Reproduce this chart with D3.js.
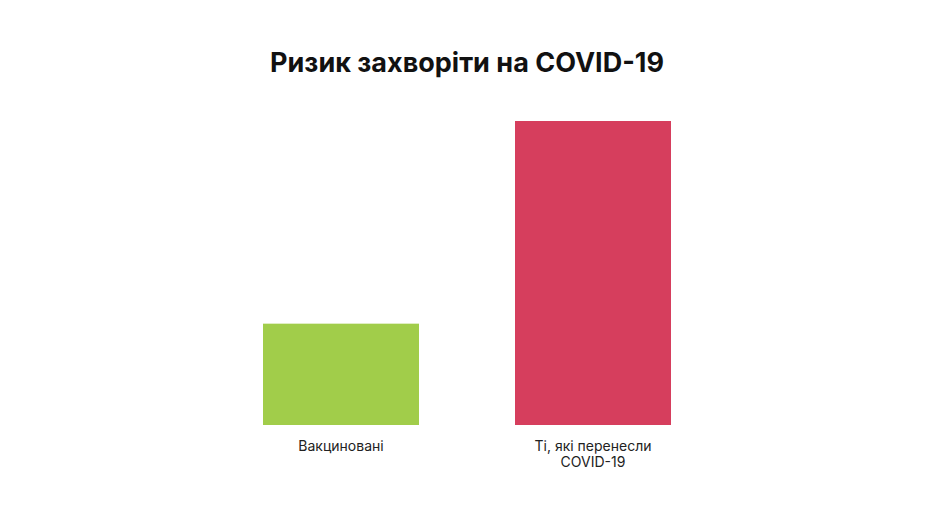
<!DOCTYPE html>
<html><head><meta charset="utf-8">
<script src="https://cdn.jsdelivr.net/npm/d3@7"></script>
<style>body{margin:0;background:#fff}svg{display:block}</style>
</head><body>
<svg id="c" width="933" height="509"></svg>
<script>
const title = "Ризик захворіти на COVID-19";
const categories = ["Вакциновані", "Ті, які перенесли|COVID-19"];
const values = [1, 3];
const colors = ["#a1cd4a", "#d63e5d"];

const svg = d3.select("#c");
svg.append("rect").attr("width",933).attr("height",509).attr("fill","#fff");

const x = d3.scaleBand().domain(categories).range([263, 671]).paddingInner(0.381).paddingOuter(0);
const y = d3.scaleLinear().domain([0, 3]).range([425, 121]);

svg.append("g").selectAll("rect").data(values).join("rect")
  .attr("x", (d,i)=>x(categories[i]))
  .attr("width", x.bandwidth())
  .attr("y", d=>y(d))
  .attr("height", d=>y(0)-y(d))
  .attr("fill", (d,i)=>colors[i]);

svg.append("text").attr("x",467).attr("y",72).attr("text-anchor","middle")
  .attr("font-family","Inter, 'Open Sans', sans-serif").attr("font-weight",700)
  .attr("font-size",27).attr("fill","#111").text(title);

const lab = svg.append("g").selectAll("text").data(categories).join("text")
  .attr("x", d=>x(d)+x.bandwidth()/2).attr("y",451).attr("text-anchor","middle")
  .attr("font-family","Inter, 'Open Sans', sans-serif").attr("font-size",14).attr("fill","#222");
lab.each(function(d){
  const parts = d.split("|");
  d3.select(this).selectAll("tspan").data(parts).join("tspan")
    .attr("x", x(d)+x.bandwidth()/2).attr("dy",(p,i)=>i?16:0).text(p=>p);
});
</script>
</body></html>
